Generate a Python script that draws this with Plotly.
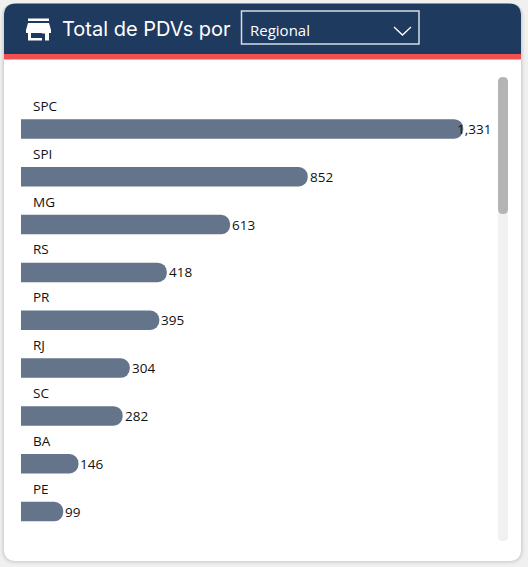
import plotly.graph_objects as go

categories = ["SPC", "SPI", "MG", "RS", "PR", "RJ", "SC", "BA", "PE"]
values = [1331, 852, 613, 418, 395, 304, 282, 146, 99]
value_labels = ["1,331", "852", "613", "418", "395", "304", "282", "146", "99"]

W, H = 528, 567
NAVY = "#1f3a5f"
RED = "#f25050"
BAR = "#64748b"
SANS = "'Open Sans', 'Noto Sans', sans-serif"
TITLE_FONT = "Inter, Lato, sans-serif"
MIN_STUB = 31  # the reference bars start with a fixed stub before the value scale


def px(x):
    return x / W


def py(y):
    return 1 - y / H


def P(points, close=True):
    s = "M" + " L".join(f"{px(x):.5f},{py(y):.5f}" for x, y in points)
    return s + (" Z" if close else "")


def rounded(x0, y0, x1, y1, r, top=True, bottom=True):
    rx, ry = px(r), r / H
    a, b, c, d = px(x0), px(x1), py(y0), py(y1)
    s = ""
    if top:
        s += f"M{a},{c-ry} Q{a},{c} {a+rx},{c} L{b-rx},{c} Q{b},{c} {b},{c-ry} "
    else:
        s += f"M{a},{c} L{b},{c} "
    if bottom:
        s += f"L{b},{d+ry} Q{b},{d} {b-rx},{d} L{a+rx},{d} Q{a},{d} {a},{d+ry} Z"
    else:
        s += f"L{b},{d} L{a},{d} Z"
    return s


shapes = []
# soft card shadow
for grow, op in [(4, 0.015), (3, 0.02), (2, 0.03), (1, 0.04)]:
    shapes.append(dict(path=rounded(4 - grow, 3, 521 + grow, 561 + grow, 12 + grow),
                       fillcolor=f"rgba(0,0,0,{op})", line_width=0, layer="below"))
shapes += [
    dict(path=rounded(4, 3.5, 521, 561, 12), fillcolor="white", line_width=0, layer="below"),
    dict(path=rounded(4, 3.5, 521, 54, 12, bottom=False), fillcolor=NAVY, line_width=0, layer="below"),
    dict(path=P([(4, 54), (521, 54), (521, 59.5), (4, 59.5)]), fillcolor=RED, line_width=0, layer="below"),
    # dropdown box
    dict(path=P([(241.5, 11), (419, 11), (419, 44), (241.5, 44)]),
         fillcolor="rgba(0,0,0,0)", line=dict(color="#d5dde6", width=1.5)),
    # chevron
    dict(path=P([(394, 27), (402.5, 35), (411, 27)], close=False),
         fillcolor="rgba(0,0,0,0)", line=dict(color="white", width=1.3)),
    # scrollbar
    dict(path=rounded(498, 77, 508, 541, 4), fillcolor="#f1f1f1", line_width=0, layer="below"),
    dict(path=rounded(498, 77, 508, 214, 5), fillcolor="#b4b4b4", line_width=0),
    # store icon
    dict(path=P([(28, 18.5), (49, 18.5), (49, 21), (28, 21)]), fillcolor="white", line_width=0),
    dict(path=P([(28, 23), (49, 23), (51, 30), (51, 33), (26, 33), (26, 30)]), fillcolor="white", line_width=0),
    dict(path=P([(28, 33), (31, 33), (31, 38), (42, 38), (42, 33), (49, 33), (49, 40.5), (45, 40.5), (45, 33.5),
                 (42, 33.5), (42, 40.5), (28, 40.5)]),
         fillcolor="white", line_width=0),
]
shapes = [dict(type="path", xref="paper", yref="paper", **s) for s in shapes]

annotations = [
    dict(text="Total de PDVs por", xref="paper", yref="paper", x=px(59.5), y=py(29), xanchor="left", yanchor="middle",
         showarrow=False, font=dict(family=TITLE_FONT, size=20, color="white")),
    dict(text="Regional", xref="paper", yref="paper", x=px(247.5), y=py(30.5), xanchor="left", yanchor="middle",
         showarrow=False, font=dict(family=SANS, size=15, color="white")),
]
for i, (cat, lab) in enumerate(zip(categories, value_labels)):
    annotations.append(dict(text=cat, x=0, y=cat, xref="x", yref="y", xanchor="left", yanchor="middle",
                            xshift=10, yshift=23, showarrow=False, font=dict(family=SANS, size=13.5, color="#111111")))
    annotations.append(dict(text=lab, x=values[i] + MIN_STUB, y=cat, xref="x", yref="y", xanchor="left", yanchor="middle",
                            xshift=-8 if i == 0 else 0, showarrow=False,
                            font=dict(family=SANS, size=13.5, color="#111111")))

fig = go.Figure(go.Bar(
    y=categories, x=[v + MIN_STUB for v in values], orientation="h",
    marker=dict(color=BAR, cornerradius=9.5, line_width=0),
    width=19.5 / 47.9, hoverinfo="skip",
))

# plot area: x pixels 21 .. 480, y centres 129 .. 512 at 47.9 px per category
x_per_px = 1 / 0.3247
fig.update_layout(
    width=W, height=H, margin=dict(l=0, r=0, t=0, b=0),
    paper_bgcolor="#f0f0f0", plot_bgcolor="rgba(0,0,0,0)", showlegend=False,
    shapes=shapes, annotations=annotations,
    xaxis=dict(domain=[px(21), px(480)], range=[0, 459 * x_per_px], visible=False, fixedrange=True),
    yaxis=dict(domain=[py(535.5), py(105)], autorange=False, range=[8.5, -0.5], type="category",
               categoryorder="array", categoryarray=categories, visible=False, fixedrange=True),
)
fig.write_html("out.html", config={"displayModeBar": False},
               post_script="document.body.style.margin='0';document.body.style.overflow='hidden';")
